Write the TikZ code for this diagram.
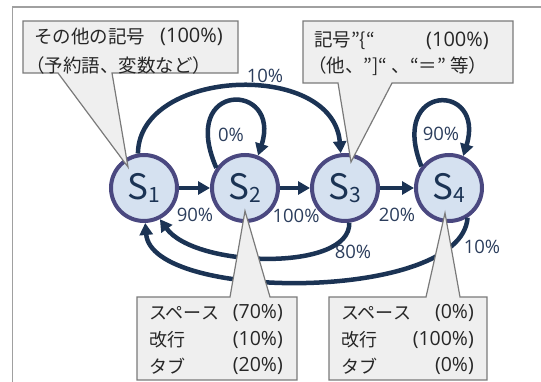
\documentclass[tikz,border=0pt]{standalone}
\usepackage{fontspec}
\setmainfont{Noto Sans CJK JP}
\newfontfamily\latf{Open Sans}
\usetikzlibrary{arrows.meta}
\definecolor{stfill}{HTML}{D5E1F0}
\definecolor{stline}{HTML}{4A4880}
\definecolor{arr}{HTML}{1B3354}
\definecolor{lbl}{HTML}{2B3D5C}
\definecolor{cofill}{HTML}{EFEFEF}
\definecolor{coline}{HTML}{7A7A7A}
\definecolor{framec}{HTML}{A0A0A0}
\newcommand{\stlab}[1]{S\raisebox{-3pt}{\fontsize{21}{21}\selectfont #1}}
\begin{document}
\begin{tikzpicture}[x=1pt,y=-1pt,
 state/.style={circle,draw=stline,line width=4pt,fill=stfill,minimum size=66pt,inner sep=0pt,text=arr,font=\fontsize{35}{35}\selectfont},
 edge/.style={draw=arr,line width=4.5pt,-{Triangle[length=12pt,width=13pt]}},
 pct/.style={text=lbl,font=\latf\fontsize{18.5}{18.5}\selectfont,inner sep=0pt},
 callout/.style={draw=coline,line width=1.2pt,fill=cofill,line join=miter},
 ctext/.style={font=\fontsize{18.5}{18.5}\selectfont,inner sep=0pt,text=black!85},
 cnum/.style={font=\latf\fontsize{20}{20}\selectfont,inner sep=0pt,text=black!85},
 btext/.style={font=\fontsize{18}{18}\selectfont,inner sep=0pt,text=black!85},
 bnum/.style={font=\latf\fontsize{19.5}{19.5}\selectfont,inner sep=0pt,text=black!85}]
\useasboundingbox (0,0) rectangle (541,382);
% frame
\coordinate (fb) at (12.5,382);
\coordinate (ftl) at (12.5,7);
\coordinate (ftr) at (541,7);
\draw[framec,line width=1.5pt] (fb) -- (ftl) -- (ftr);
% states
\node[state] (s1) at (144,188) {\stlab{1}};
\node[state] (s2) at (245,188) {\stlab{2}};
\node[state] (s3) at (345,188) {\stlab{3}};
\node[state] (s4) at (449,188) {\stlab{4}};
% edges
\draw[edge] (s1) -- (s2);
\draw[edge] (s2) -- (s3);
\draw[edge] (s3) -- (s4);
\draw[edge] (s1.100) .. controls (139,68) and (333,60) .. (s3.97);
\draw[edge] (s2.145) .. controls (178,80) and (282,82) .. (s2.68);
\draw[edge] (s4.142) .. controls (388,82) and (486,82) .. (s4.66);
\draw[edge] (s3.-83) .. controls (351,272) and (195,268) .. (s1.-63);
\draw[edge] (s4.-58) .. controls (462,302) and (152,302) .. (s1.-88);
% labels
\node[pct] (l12) at (195,215) {90\%};
\node[pct] (l23) at (296,216) {100\%};
\node[pct] (l34) at (397,215) {20\%};
\node[pct] (l13) at (265,76) {10\%};
\node[pct] (l22) at (231,135) {0\%};
\node[pct] (l44) at (441,134) {90\%};
\node[pct] (l31) at (353,252) {80\%};
\node[pct] (l41) at (482,247) {10\%};
% callouts
\draw[callout] (23,21) -- (238,21) -- (238,73) -- (112,73) -- (128,167) -- (58,73) -- (23,73) -- cycle;
\draw[callout] (303,21) -- (513,21) -- (513,83) -- (392,83) -- (351,162) -- (338,83) -- (303,83) -- cycle;
\draw[callout] (137,297) -- (230,297) -- (245,211) -- (270,297) -- (297,297) -- (297,380) -- (137,380) -- cycle;
\draw[callout] (329,297) -- (426,297) -- (445,213) -- (460,297) -- (487,297) -- (487,380) -- (329,380) -- cycle;
% callout texts
\node[ctext,anchor=west] (c1a) at (34,37) {その他の記号};
\node[cnum,anchor=east] (c1ap) at (223,37) {(100\%)};
\node[ctext,anchor=west] (c1b) at (26,65) {（予約語、変数など）};
\node[ctext,anchor=west] (c2a) at (314,41) {記号”\{“};
\node[cnum,anchor=east] (c2ap) at (489,41) {(100\%)};
\node[ctext,anchor=west] (c2b) at (308,66) {（他、”]“ 、“＝” 等）};
\node[btext,anchor=west] (c3a) at (149,313) {スペース};
\node[bnum,anchor=east] (c3ap) at (283,313) {(70\%)};
\node[btext,anchor=west] (c3b) at (149,340) {改行};
\node[bnum,anchor=east] (c3bp) at (283,340) {(10\%)};
\node[btext,anchor=west] (c3c) at (149,366) {タブ};
\node[bnum,anchor=east] (c3cp) at (283,366) {(20\%)};
\node[btext,anchor=west] (c4a) at (341,313) {スペース};
\node[bnum,anchor=east] (c4ap) at (474,313) {(0\%)};
\node[btext,anchor=west] (c4b) at (341,340) {改行};
\node[bnum,anchor=east] (c4bp) at (474,340) {(100\%)};
\node[btext,anchor=west] (c4c) at (341,366) {タブ};
\node[bnum,anchor=east] (c4cp) at (474,366) {(0\%)};
\end{tikzpicture}
\end{document}
